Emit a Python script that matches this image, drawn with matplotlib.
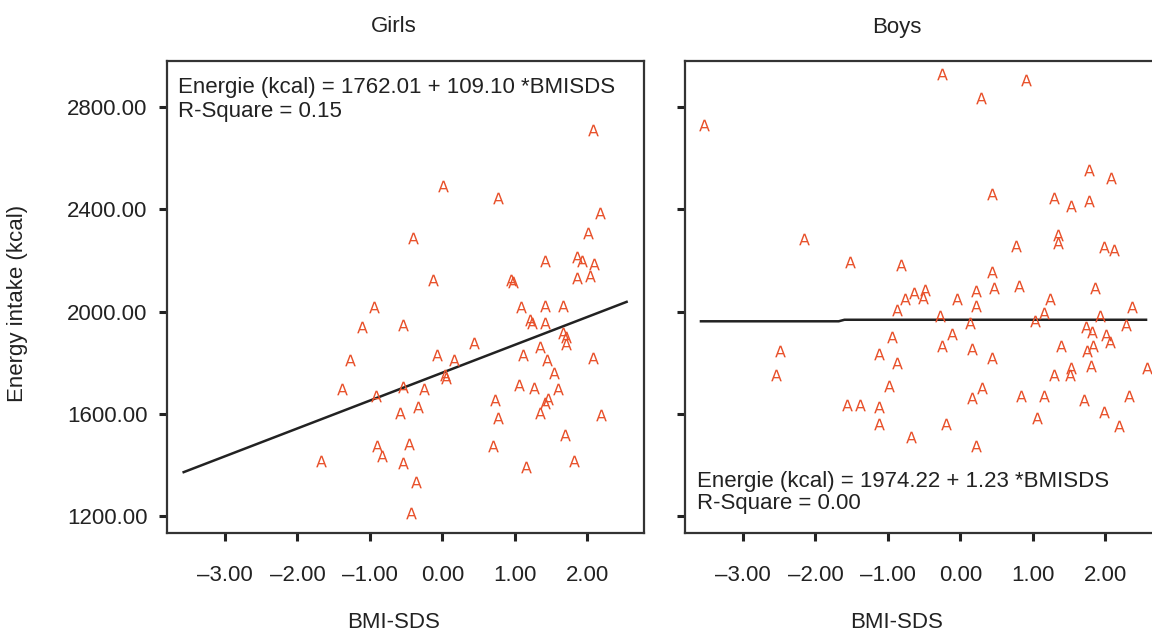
import matplotlib
matplotlib.use("Agg")
import matplotlib.pyplot as plt

# datos (BMI-SDS, kcal)
girls_x = [2.07, 0.01, 0.76, 2.17, -0.41, 2.01, 1.42, 1.86, 1.93, 2.09,
           -0.13, 0.94, 0.97, 1.86, 2.04, -0.94, 1.08, 1.42, 1.66, -1.11,
           -0.55, 1.21, 1.24, 1.42, 0.43, 1.66, 1.71, 1.71, 1.35, -1.27,
           -0.07, 0.16, 1.11, 1.44, 2.07, 0.04, 0.05, 1.54, -1.38, -0.92,
           -0.55, -0.25, 1.05, 1.26, 1.59, 0.73, 1.45, 1.42, -0.34, -0.58,
           0.76, 1.35, 2.19, 1.69, -0.91, -0.46, 0.70, -0.84, -1.68, -0.55,
           1.82, 1.15, -0.37, -0.43]
girls_y = [2710, 2492, 2443, 2384, 2289, 2308, 2199, 2215, 2199, 2185,
           2123, 2123, 2117, 2131, 2139, 2016, 2016, 2023, 2023, 1941,
           1947, 1969, 1954, 1954, 1879, 1915, 1901, 1873, 1862, 1810,
           1830, 1810, 1830, 1810, 1819, 1752, 1741, 1761, 1697, 1671,
           1706, 1697, 1712, 1703, 1697, 1654, 1660, 1643, 1628, 1602,
           1585, 1602, 1595, 1517, 1475, 1484, 1475, 1435, 1415, 1409,
           1415, 1393, 1334, 1214]

boys_x = [-3.54, -0.25, 0.91, 0.28, 1.77, 2.07, 0.43, 1.29, 1.53, 1.77,
          -2.16, 1.35, 1.35, 0.76, 1.98, 2.12, -1.52, -0.82, 0.43, 0.46,
          0.81, 1.85, 0.22, -0.64, -0.49, -0.76, -0.52, -0.05, 1.23, -0.88,
          0.22, 1.15, 2.36, -0.28, 1.92, 0.13, 1.03, 2.28, -0.11, 1.73,
          1.82, 2.01, 2.06, -0.94, -2.49, -2.55, -1.12, -0.26, 0.16, 1.39,
          1.74, 1.83, -0.88, 0.43, 1.80, 2.57, 1.29, 1.53, 1.51, -0.98,
          0.30, 0.16, 0.84, 1.15, 1.71, 2.33, -1.57, -1.39, -1.12, -1.12,
          -0.20, 1.05, 1.98, 2.19, -0.68, 0.22]
boys_y = [2730, 2929, 2906, 2836, 2554, 2521, 2460, 2445, 2413, 2433,
          2284, 2299, 2267, 2257, 2251, 2241, 2192, 2182, 2156, 2091,
          2100, 2091, 2081, 2074, 2084, 2048, 2054, 2048, 2048, 2006,
          2023, 1995, 2016, 1984, 1984, 1954, 1964, 1947, 1912, 1941,
          1921, 1908, 1882, 1899, 1845, 1752, 1836, 1865, 1855, 1865,
          1845, 1865, 1797, 1820, 1787, 1778, 1752, 1778, 1752, 1710,
          1703, 1663, 1669, 1669, 1654, 1669, 1634, 1634, 1628, 1560,
          1560, 1585, 1608, 1553, 1510, 1475]

# rectas de regresion (extremos)
girls_fit_x = [-3.57, 2.54]
girls_fit_y = [1372, 2038]
boys_fit_x = [-3.58, -1.68, -1.60, 2.56]
boys_fit_y = [1962, 1962, 1968, 1968]

girls_eq = ["Energie (kcal) = 1762.01 + 109.10 *BMISDS", "R-Square = 0.15"]
boys_eq = ["Energie (kcal) = 1974.22 + 1.23 *BMISDS", "R-Square = 0.00"]

xticks = [-3, -2, -1, 0, 1, 2]
xtick_labels = ["–3.00", "–2.00", "–1.00", "0.00", "1.00", "2.00"]
yticks = [1200, 1600, 2000, 2400, 2800]
ytick_labels = ["1200.00", "1600.00", "2000.00", "2400.00", "2800.00"]

plt.rcParams['font.family'] = ['Liberation Sans', 'DejaVu Sans']
color_pts = '#e8502a'
color_frame = '#333333'
fs = 16

fig = plt.figure(figsize=(11.52, 6.36), dpi=100)
W, H = 1152, 636
ax_w = 477 / W
ax_h = (533 - 61) / H
ax_b = 1 - 533 / H
ax1 = fig.add_axes([167 / W, ax_b, ax_w, ax_h])
ax2 = fig.add_axes([685 / W, ax_b, ax_w, ax_h])

panels = [(ax1, girls_x, girls_y, girls_fit_x, girls_fit_y),
          (ax2, boys_x, boys_y, boys_fit_x, boys_fit_y)]

for ax, xs, ys, fx, fy in panels:
    ax.scatter(xs, ys, marker=r'$\mathsf{A}$', s=70, color=color_pts,
               linewidths=0, zorder=3)
    ax.plot(fx, fy, color='#222222', lw=1.8, zorder=2)
    ax.set_xlim(-3.80, 2.78)
    ax.set_ylim(1134, 2980)
    ax.set_xticks(xticks)
    ax.set_xticklabels(xtick_labels, fontsize=fs)
    ax.set_yticks(yticks)
    ax.tick_params(axis='both', direction='out', length=6, width=2.2,
                   color='#222222', labelcolor='#222222')
    ax.tick_params(axis='x', pad=17)
    ax.tick_params(axis='y', pad=8)
    for s in ax.spines.values():
        s.set_color(color_frame)
        s.set_linewidth(1.6)

ax1.set_yticklabels(ytick_labels, fontsize=fs)
ax2.set_yticklabels([])

# textos de la regresion
ax1.text(0.0237, 0.932, girls_eq[0], transform=ax1.transAxes, fontsize=fs,
         va='baseline', ha='left', color='#222222')
ax1.text(0.0237, 0.881, girls_eq[1], transform=ax1.transAxes, fontsize=fs,
         va='baseline', ha='left', color='#222222')
ax2.text(0.0245, 0.098, boys_eq[0], transform=ax2.transAxes, fontsize=fs,
         va='baseline', ha='left', color='#222222')
ax2.text(0.0245, 0.051, boys_eq[1], transform=ax2.transAxes, fontsize=fs,
         va='baseline', ha='left', color='#222222')

fig.text(394 / W, 1 - 27 / H, "Girls", ha='center', va='center', fontsize=fs,
         color='#222222')
fig.text(897 / W, 1 - 27 / H, "Boys", ha='center', va='center', fontsize=fs,
         color='#222222')
fig.text(394 / W, 1 - 623 / H, "BMI-SDS", ha='center', va='center', fontsize=fs,
         color='#222222')
fig.text(897 / W, 1 - 623 / H, "BMI-SDS", ha='center', va='center', fontsize=fs,
         color='#222222')
fig.text(18 / W, 1 - 303 / H, "Energy intake (kcal)", ha='center', va='center',
         rotation=90, fontsize=fs, color='#222222')

fig.savefig("out.png", dpi=100)
